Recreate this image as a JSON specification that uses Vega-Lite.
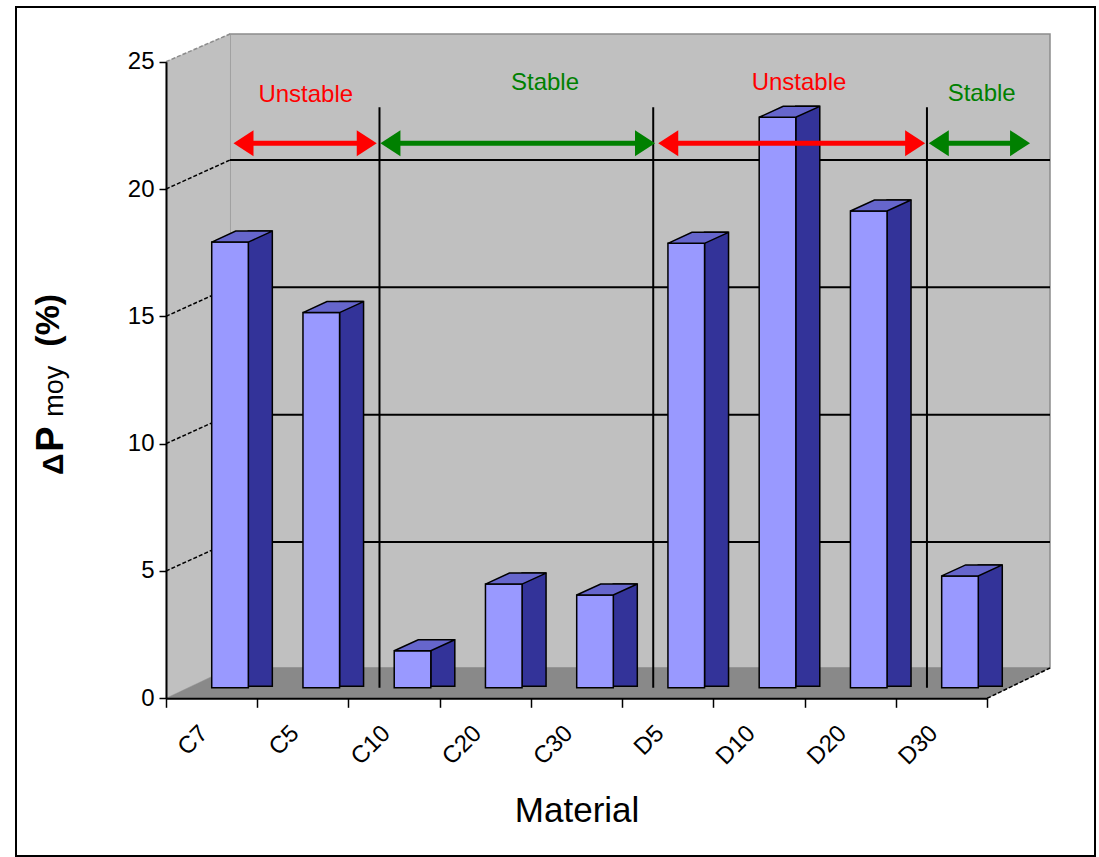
{
  "$schema": "https://vega.github.io/schema/vega-lite/v6.json",
  "width": 1079,
  "height": 849,
  "autosize": {"type": "none"},
  "padding": {"left": 16, "top": 7, "right": 4, "bottom": 1},
  "background": "white",
  "config": {
    "view": {"stroke": "black", "strokeWidth": 2, "fill": "white"},
    "text": {"font": "Liberation Sans"}
  },
  "datasets": {
    "bars": [
      {"material": "C7", "dp": 17.5},
      {"material": "C5", "dp": 14.73},
      {"material": "C10", "dp": 1.45},
      {"material": "C20", "dp": 4.07},
      {"material": "C30", "dp": 3.64},
      {"material": "D5", "dp": 17.45},
      {"material": "D10", "dp": 22.4},
      {"material": "D20", "dp": 18.72},
      {"material": "D30", "dp": 4.39}
    ],
    "regions": [
      {"stability": "Unstable", "from": 0.4, "to": 1.97, "lx": 1.192, "ly": 23.43},
      {"stability": "Stable", "from": 2.01, "to": 5.02, "lx": 3.814, "ly": 23.89},
      {"stability": "Unstable", "from": 5.055, "to": 7.98, "lx": 6.598, "ly": 23.89},
      {"stability": "Stable", "from": 8.02, "to": 9.13, "lx": 8.6, "ly": 23.47}
    ],
    "bounds": [{"b": 2}, {"b": 5}, {"b": 8}],
    "grid": [{"g": 5}, {"g": 10}, {"g": 15}, {"g": 20}],
    "one": [{"k": 1}]
  },
  "layer": [
    {
      "layer": [
        {
          "data": {"name": "one"},
          "mark": {"type": "rect", "fill": "#C0C0C0", "stroke": "#8C8C8C", "strokeWidth": 1.5, "xOffset": 64, "x2Offset": 62.8, "yOffset": -27.7, "y2Offset": -30.3},
          "encoding": {
            "x": {"datum": 0, "type": "quantitative", "scale": {"domain": [0, 9], "range": [150, 971.2], "nice": false, "zero": false}, "axis": null},
            "x2": {"datum": 9},
            "y": {"datum": 25, "type": "quantitative", "title": null, "scale": {"domain": [0, 25], "range": [691.3, 54.7], "nice": false, "zero": false}},
            "y2": {"datum": 0}
          }
        },
        {
          "data": {"name": "one"},
          "mark": {"type": "point", "shape": "M -0.0914 -0.868 L 0.0914 -0.947 L 0.0914 0.864 L -0.0914 0.951 Z", "size": 490000, "filled": true, "fill": "#C0C0C0", "stroke": "#C0C0C0", "strokeWidth": 0.5, "opacity": 1, "xOffset": 32, "yOffset": -14.5},
          "encoding": {
            "x": {"datum": 0, "type": "quantitative", "scale": {"domain": [0, 9], "range": [150, 971.2], "nice": false, "zero": false}, "axis": null},
            "y": {"datum": 12.5, "type": "quantitative", "title": null, "scale": {"domain": [0, 25], "range": [691.3, 54.7], "nice": false, "zero": false}}
          }
        },
        {
          "data": {"name": "one"},
          "mark": {"type": "point", "shape": "M -0.98278 0.03367 L -0.84056 -0.03367 L 0.98167 -0.03367 L 0.84211 0.03367 Z", "size": 810000, "filled": true, "fill": "#898989", "stroke": "#898989", "strokeWidth": 0.5, "opacity": 1, "xOffset": 31.65, "yOffset": -15.15},
          "encoding": {
            "x": {"datum": 4.5, "type": "quantitative", "scale": {"domain": [0, 9], "range": [150, 971.2], "nice": false, "zero": false}, "axis": null},
            "y": {"datum": 0, "type": "quantitative", "title": null, "scale": {"domain": [0, 25], "range": [691.3, 54.7], "nice": false, "zero": false}}
          }
        },
        {
          "data": {"name": "grid"},
          "mark": {"type": "rule", "color": "black", "strokeWidth": 2, "xOffset": 64, "x2Offset": 62.8, "yOffset": -29},
          "encoding": {
            "x": {"datum": 0, "type": "quantitative", "scale": {"domain": [0, 9], "range": [150, 971.2], "nice": false, "zero": false}, "axis": null},
            "x2": {"datum": 9},
            "y": {"field": "g", "type": "quantitative", "title": null, "scale": {"domain": [0, 25], "range": [691.3, 54.7], "nice": false, "zero": false}}
          }
        },
        {
          "data": {"name": "grid"},
          "mark": {"type": "rule", "color": "black", "strokeWidth": 1.5, "strokeDash": [4, 2], "x2Offset": 64, "y2Offset": -29},
          "encoding": {
            "x": {"datum": 0, "type": "quantitative", "scale": {"domain": [0, 9], "range": [150, 971.2], "nice": false, "zero": false}, "axis": null},
            "x2": {"datum": 0},
            "y": {"field": "g", "type": "quantitative", "title": null, "scale": {"domain": [0, 25], "range": [691.3, 54.7], "nice": false, "zero": false}},
            "y2": {"field": "g"}
          }
        },
        {
          "data": {"name": "one"},
          "mark": {"type": "rule", "color": "#8C8C8C", "strokeWidth": 1.5, "strokeDash": [4, 2], "x2Offset": 64, "y2Offset": -27.7},
          "encoding": {
            "x": {"datum": 0, "type": "quantitative", "scale": {"domain": [0, 9], "range": [150, 971.2], "nice": false, "zero": false}, "axis": null},
            "x2": {"datum": 0},
            "y": {"datum": 25, "type": "quantitative", "title": null, "scale": {"domain": [0, 25], "range": [691.3, 54.7], "nice": false, "zero": false}},
            "y2": {"datum": 25}
          }
        },
        {
          "data": {"name": "one"},
          "mark": {"type": "rule", "color": "black", "strokeWidth": 1.5, "strokeDash": [4, 2], "x2Offset": 62.8, "y2Offset": -30.3},
          "encoding": {
            "x": {"datum": 9, "type": "quantitative", "scale": {"domain": [0, 9], "range": [150, 971.2], "nice": false, "zero": false}, "axis": null},
            "x2": {"datum": 9},
            "y": {"datum": 0, "type": "quantitative", "title": null, "scale": {"domain": [0, 25], "range": [691.3, 54.7], "nice": false, "zero": false}},
            "y2": {"datum": 0}
          }
        },
        {
          "data": {"name": "bounds"},
          "mark": {"type": "rule", "color": "black", "strokeWidth": 2, "xOffset": 31, "yOffset": -10.5, "y2Offset": -10.5},
          "encoding": {
            "x": {"field": "b", "type": "quantitative", "scale": {"domain": [0, 9], "range": [150, 971.2], "nice": false, "zero": false}, "axis": null},
            "y": {"datum": 0, "type": "quantitative", "title": null, "scale": {"domain": [0, 25], "range": [691.3, 54.7], "nice": false, "zero": false}},
            "y2": {"datum": 22.8}
          }
        },
        {
          "data": {"name": "one"},
          "mark": {"type": "text", "text": "Δ", "font": "Liberation Sans", "fontWeight": "bold", "fontSize": 30, "angle": 270, "align": "left", "baseline": "alphabetic", "color": "black"},
          "encoding": {
            "x": {"datum": -1.1289, "type": "quantitative", "scale": {"domain": [0, 9], "range": [150, 971.2], "nice": false, "zero": false}, "axis": null},
            "y": {"datum": 8.77, "type": "quantitative", "title": null, "scale": {"domain": [0, 25], "range": [691.3, 54.7], "nice": false, "zero": false}}
          }
        },
        {
          "data": {"name": "one"},
          "mark": {"type": "text", "text": "P", "font": "Liberation Sans", "fontWeight": "bold", "fontSize": 38, "angle": 270, "align": "left", "baseline": "alphabetic", "color": "black", "yOffset": -23.3},
          "encoding": {
            "x": {"datum": -1.1289, "type": "quantitative", "scale": {"domain": [0, 9], "range": [150, 971.2], "nice": false, "zero": false}, "axis": null},
            "y": {"datum": 8.77, "type": "quantitative", "title": null, "scale": {"domain": [0, 25], "range": [691.3, 54.7], "nice": false, "zero": false}}
          }
        },
        {
          "data": {"name": "one"},
          "mark": {"type": "text", "text": "moy", "font": "Liberation Sans", "fontSize": 27, "angle": 270, "align": "left", "baseline": "alphabetic", "color": "black", "yOffset": -58.3},
          "encoding": {
            "x": {"datum": -1.1289, "type": "quantitative", "scale": {"domain": [0, 9], "range": [150, 971.2], "nice": false, "zero": false}, "axis": null},
            "y": {"datum": 8.77, "type": "quantitative", "title": null, "scale": {"domain": [0, 25], "range": [691.3, 54.7], "nice": false, "zero": false}}
          }
        },
        {
          "data": {"name": "one"},
          "mark": {"type": "text", "text": "(%)", "font": "Liberation Sans", "fontWeight": "bold", "fontSize": 34, "angle": 270, "align": "left", "baseline": "alphabetic", "color": "black", "yOffset": -128.3},
          "encoding": {
            "x": {"datum": -1.1727, "type": "quantitative", "scale": {"domain": [0, 9], "range": [150, 971.2], "nice": false, "zero": false}, "axis": null},
            "y": {"datum": 8.77, "type": "quantitative", "title": null, "scale": {"domain": [0, 25], "range": [691.3, 54.7], "nice": false, "zero": false}}
          }
        }
      ]
    },
    {
      "data": {"name": "bars"},
      "layer": [
        {
          "mark": {"type": "bar", "width": 24, "xOffset": 48.7, "yOffset": -21.6, "y2Offset": -12, "fill": "#333399", "stroke": "black", "strokeWidth": 1.5},
          "encoding": {
            "x": {
              "field": "material", "type": "nominal", "sort": null, "title": "Material",
              "scale": {"domain": ["C7", "C5", "C10", "C20", "C30", "D5", "D10", "D20", "D30"], "range": [150, 971.2], "paddingInner": 0, "paddingOuter": 0},
              "axis": {
                "title": "Material", "orient": "bottom", "offset": -157.7, "tickBand": "extent", "zindex": 1,
                "labelAngle": -45, "labelAlign": "right", "labelBaseline": "middle",
                "labelFontSize": 24, "labelFont": "Liberation Sans", "labelColor": "black",
                "labelPadding": 22, "labelOffset": -8, "labelOverlap": false,
                "tickSize": 9, "tickColor": "black", "tickWidth": 1.5,
                "domainColor": "black", "domainWidth": 2, "grid": false,
                "titleFontSize": 35, "titleFont": "Liberation Sans", "titleFontWeight": "normal",
                "titleColor": "black", "titlePadding": 25
              }
            },
            "y": {
              "field": "dp", "type": "quantitative", "title": null,
              "scale": {"domain": [0, 25], "range": [691.3, 54.7], "nice": false, "zero": false},
              "axis": {
                "title": null, "orient": "left", "offset": -150, "values": [0, 5, 10, 15, 20, 25], "zindex": 1,
                "labelFontSize": 24, "labelFont": "Liberation Sans", "labelColor": "black", "labelPadding": 5,
                "tickSize": 7, "tickColor": "black", "tickWidth": 1.5,
                "domainColor": "black", "domainWidth": 2, "grid": false
              }
            },
            "y2": {"datum": 0}
          }
        },
        {
          "mark": {"type": "bar", "width": 36.6, "xOffset": 18.4, "yOffset": -10.6, "y2Offset": -10.6, "fill": "#9999FF", "stroke": "black", "strokeWidth": 1.5},
          "encoding": {
            "x": {
              "field": "material", "type": "nominal", "sort": null, "title": "Material",
              "scale": {"domain": ["C7", "C5", "C10", "C20", "C30", "D5", "D10", "D20", "D30"], "range": [150, 971.2], "paddingInner": 0, "paddingOuter": 0},
              "axis": {
                "title": "Material", "orient": "bottom", "offset": -157.7, "tickBand": "extent", "zindex": 1,
                "labelAngle": -45, "labelAlign": "right", "labelBaseline": "middle",
                "labelFontSize": 24, "labelFont": "Liberation Sans", "labelColor": "black",
                "labelPadding": 22, "labelOffset": -8, "labelOverlap": false,
                "tickSize": 9, "tickColor": "black", "tickWidth": 1.5,
                "domainColor": "black", "domainWidth": 2, "grid": false,
                "titleFontSize": 35, "titleFont": "Liberation Sans", "titleFontWeight": "normal",
                "titleColor": "black", "titlePadding": 25
              }
            },
            "y": {
              "field": "dp", "type": "quantitative", "title": null,
              "scale": {"domain": [0, 25], "range": [691.3, 54.7], "nice": false, "zero": false},
              "axis": {
                "title": null, "orient": "left", "offset": -150, "values": [0, 5, 10, 15, 20, 25], "zindex": 1,
                "labelFontSize": 24, "labelFont": "Liberation Sans", "labelColor": "black", "labelPadding": 5,
                "tickSize": 7, "tickColor": "black", "tickWidth": 1.5,
                "domainColor": "black", "domainWidth": 2, "grid": false
              }
            }
          }
        },
        {
          "mark": {"type": "point", "shape": "M -1 0.1815 L -0.208 -0.1815 L 1 -0.1815 L 0.208 0.1815 Z", "size": 3672, "filled": true, "fill": "#6666CC", "stroke": "black", "strokeWidth": 1.5, "opacity": 1, "xOffset": 30.4, "yOffset": -16.1},
          "encoding": {
            "x": {
              "field": "material", "type": "nominal", "sort": null, "title": "Material",
              "scale": {"domain": ["C7", "C5", "C10", "C20", "C30", "D5", "D10", "D20", "D30"], "range": [150, 971.2], "paddingInner": 0, "paddingOuter": 0},
              "axis": {
                "title": "Material", "orient": "bottom", "offset": -157.7, "tickBand": "extent", "zindex": 1,
                "labelAngle": -45, "labelAlign": "right", "labelBaseline": "middle",
                "labelFontSize": 24, "labelFont": "Liberation Sans", "labelColor": "black",
                "labelPadding": 22, "labelOffset": -8, "labelOverlap": false,
                "tickSize": 9, "tickColor": "black", "tickWidth": 1.5,
                "domainColor": "black", "domainWidth": 2, "grid": false,
                "titleFontSize": 35, "titleFont": "Liberation Sans", "titleFontWeight": "normal",
                "titleColor": "black", "titlePadding": 25
              }
            },
            "y": {
              "field": "dp", "type": "quantitative", "title": null,
              "scale": {"domain": [0, 25], "range": [691.3, 54.7], "nice": false, "zero": false},
              "axis": {
                "title": null, "orient": "left", "offset": -150, "values": [0, 5, 10, 15, 20, 25], "zindex": 1,
                "labelFontSize": 24, "labelFont": "Liberation Sans", "labelColor": "black", "labelPadding": 5,
                "tickSize": 7, "tickColor": "black", "tickWidth": 1.5,
                "domainColor": "black", "domainWidth": 2, "grid": false
              }
            }
          }
        }
      ]
    },
    {
      "data": {"name": "regions"},
      "layer": [
        {
          "mark": {"type": "rule", "strokeWidth": 5, "xOffset": 43, "x2Offset": 19},
          "encoding": {
            "x": {"field": "from", "type": "quantitative", "scale": {"domain": [0, 9], "range": [150, 971.2], "nice": false, "zero": false}, "axis": null},
            "x2": {"field": "to"},
            "y": {"datum": 21.8, "type": "quantitative", "title": null, "scale": {"domain": [0, 25], "range": [691.3, 54.7], "nice": false, "zero": false}},
            "color": {"field": "stability", "type": "nominal", "scale": {"domain": ["Unstable", "Stable"], "range": ["#FF0000", "#008000"]}, "legend": null}
          }
        },
        {
          "mark": {"type": "point", "shape": "M -1.54 -1 L 0 0 L -1.54 1 Z", "size": 676, "filled": true, "opacity": 1, "strokeWidth": 0, "xOffset": 31},
          "encoding": {
            "x": {"field": "to", "type": "quantitative", "scale": {"domain": [0, 9], "range": [150, 971.2], "nice": false, "zero": false}, "axis": null},
            "y": {"datum": 21.8, "type": "quantitative", "title": null, "scale": {"domain": [0, 25], "range": [691.3, 54.7], "nice": false, "zero": false}},
            "color": {"field": "stability", "type": "nominal", "scale": {"domain": ["Unstable", "Stable"], "range": ["#FF0000", "#008000"]}, "legend": null}
          }
        },
        {
          "mark": {"type": "point", "shape": "M 1.54 -1 L 0 0 L 1.54 1 Z", "size": 676, "filled": true, "opacity": 1, "strokeWidth": 0, "xOffset": 31},
          "encoding": {
            "x": {"field": "from", "type": "quantitative", "scale": {"domain": [0, 9], "range": [150, 971.2], "nice": false, "zero": false}, "axis": null},
            "y": {"datum": 21.8, "type": "quantitative", "title": null, "scale": {"domain": [0, 25], "range": [691.3, 54.7], "nice": false, "zero": false}},
            "color": {"field": "stability", "type": "nominal", "scale": {"domain": ["Unstable", "Stable"], "range": ["#FF0000", "#008000"]}, "legend": null}
          }
        },
        {
          "mark": {"type": "text", "font": "Liberation Sans", "fontSize": 24, "align": "center", "baseline": "alphabetic", "xOffset": 31},
          "encoding": {
            "x": {"field": "lx", "type": "quantitative", "scale": {"domain": [0, 9], "range": [150, 971.2], "nice": false, "zero": false}, "axis": null},
            "y": {"field": "ly", "type": "quantitative", "title": null, "scale": {"domain": [0, 25], "range": [691.3, 54.7], "nice": false, "zero": false}},
            "text": {"field": "stability"},
            "color": {"field": "stability", "type": "nominal", "scale": {"domain": ["Unstable", "Stable"], "range": ["#FF0000", "#008000"]}, "legend": null}
          }
        }
      ]
    }
  ],
  "resolve": {"scale": {"x": "independent"}, "axis": {"x": "independent"}}
}
